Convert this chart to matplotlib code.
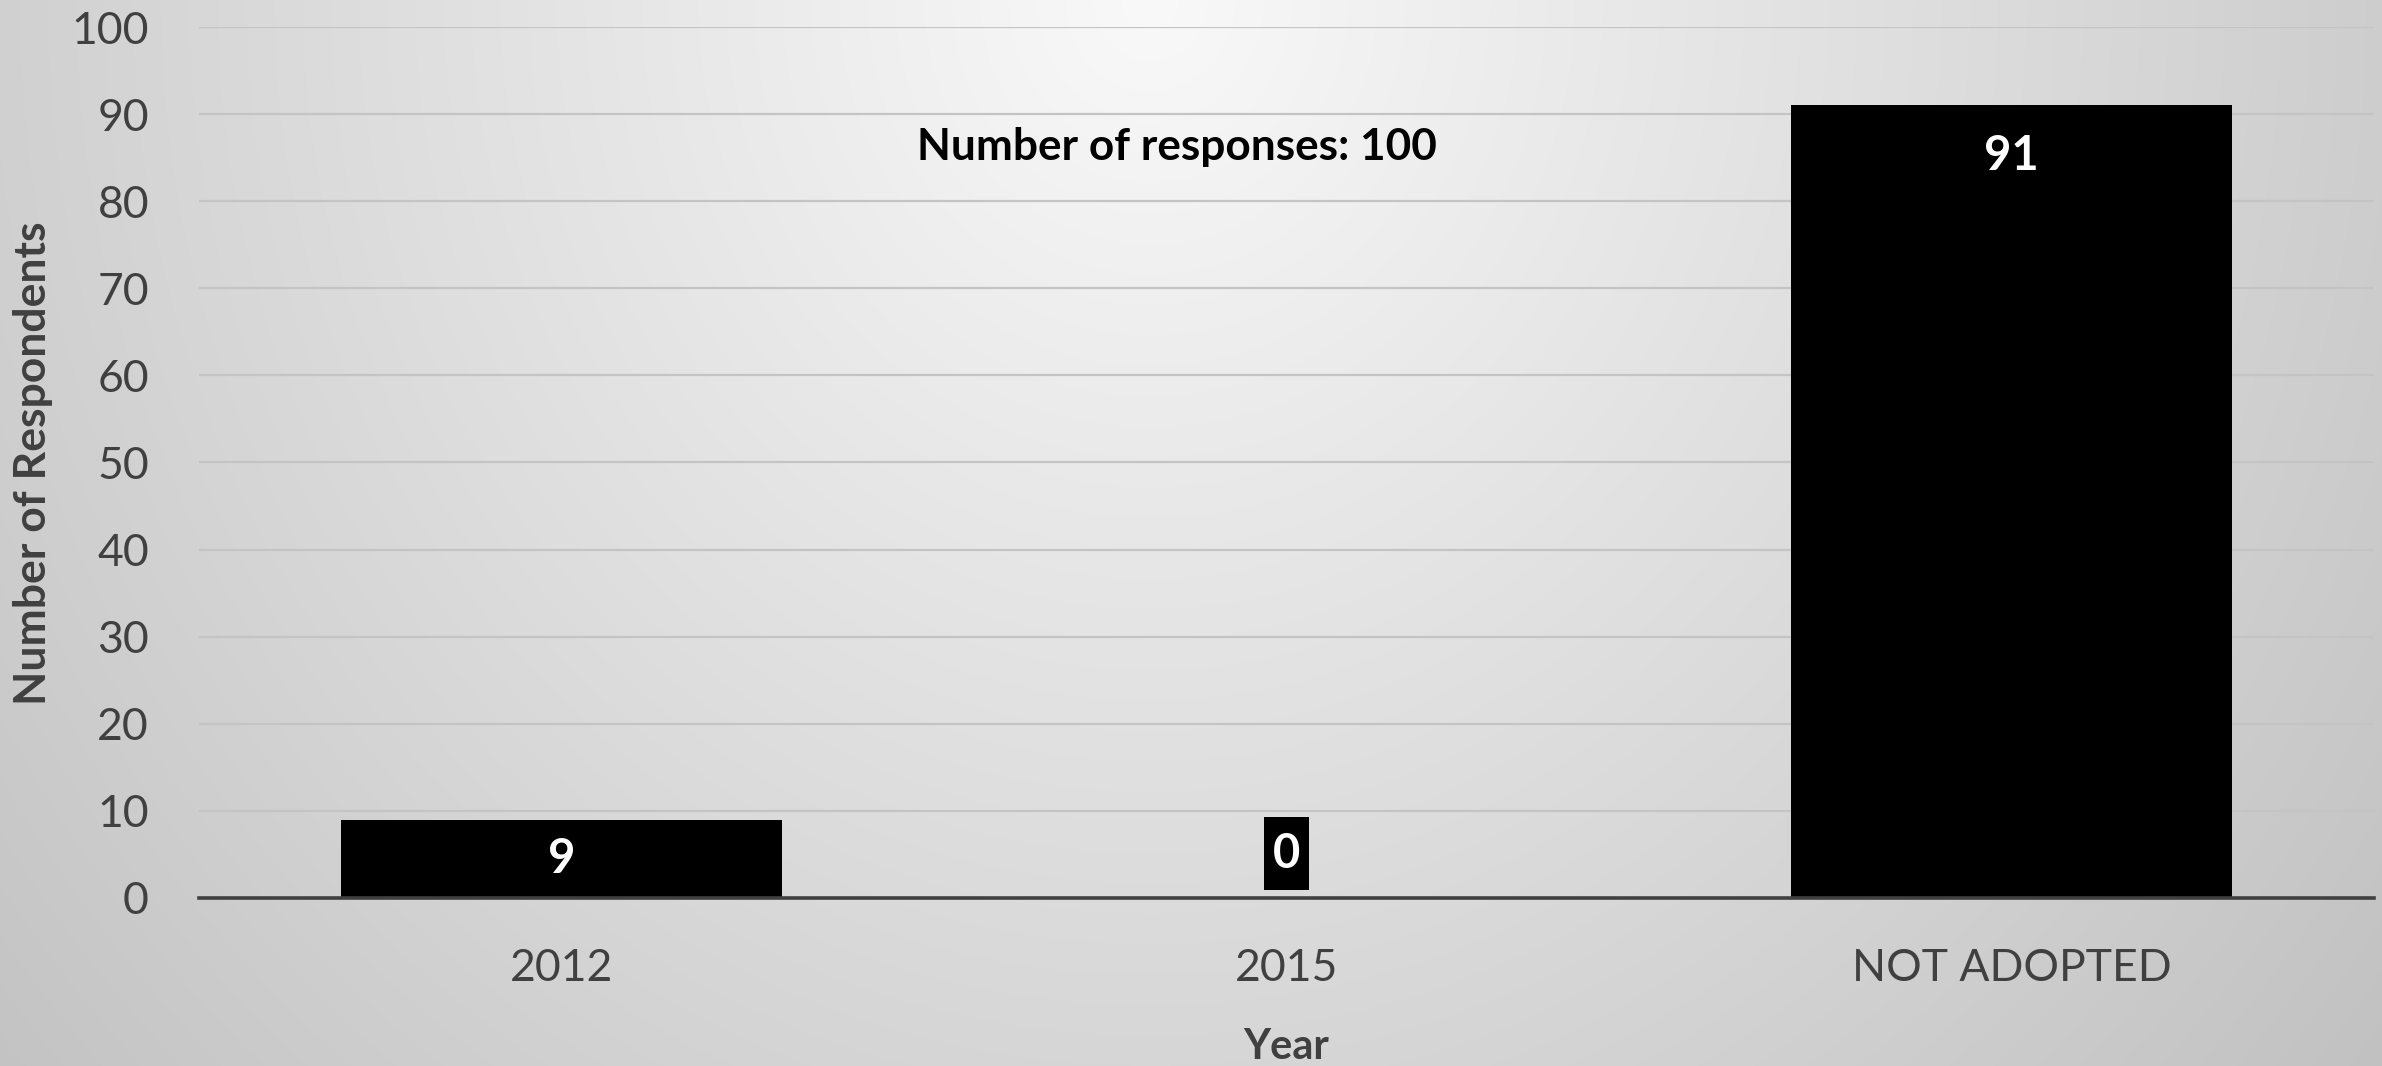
import numpy as np
import matplotlib
matplotlib.use("Agg")
import matplotlib.pyplot as plt
from matplotlib.path import Path

categories = ["2012", "2015", "NOT ADOPTED"]
values = [9, 0, 91]
yticks = [0, 10, 20, 30, 40, 50, 60, 70, 80, 90, 100]
note = "Number of responses: 100"
xlabel = "Year"
ylabel = "Number of Respondents"

plt.rcParams['font.family'] = ['Lato', 'DejaVu Sans']

W, H = 2382, 1066
fig = plt.figure(figsize=(W / 100, H / 100), dpi=100)

# background gradient
bg = fig.add_axes([0, 0, 1, 1], zorder=-10)
yy, xx = np.mgrid[0:H, 0:W]
r = np.sqrt(((xx - 1150) / 1300.0) ** 2 + (yy / 1400.0) ** 2)
g = np.clip(249 - 46 * r, 185, 250) / 255.0
bg.imshow(np.dstack([g, g, g]), aspect='auto', extent=[0, 1, 0, 1], origin='upper')
bg.axis('off')

ax = fig.add_axes([199 / W, 1 - 898 / H, (2374 - 199) / W, (898 - 27) / H])
ax.patch.set_alpha(0)

x = np.arange(len(categories))
ax.bar(x, values, width=0.607, color='black', zorder=3)

ax.set_xlim(-0.5, len(categories) - 0.5)
ax.set_ylim(0, 100)
ax.set_yticks(yticks)
ax.set_xticks(x)
ax.set_xticklabels(categories)
ax.tick_params(axis='both', length=0, labelsize=32, labelcolor='#404040')
ax.tick_params(axis='x', pad=36)
ax.tick_params(axis='y', pad=36)

for yv in yticks[1:]:
    ax.axhline(yv, color='#c4c4c4', lw=1.6, zorder=1)

for s in ['top', 'right', 'left']:
    ax.spines[s].set_visible(False)
ax.spines['bottom'].set_color('#404040')
ax.spines['bottom'].set_linewidth(2.6)
ax.spines['bottom'].set_zorder(4)


def tall_box(x0, y0, width, height, mutation_size):
    px = 0.18 * mutation_size
    py = 0.31 * mutation_size
    x0, y0 = x0 - px, y0 - py
    x1, y1 = x0 + width + 2 * px, y0 + height + 2 * py
    return Path([(x0, y0), (x1, y0), (x1, y1), (x0, y1), (x0, y0)],
                closed=True)


for xi, v in zip(x, values):
    if v >= 12:
        ly = v - 5.8
    elif v > 0:
        ly = v / 2
    else:
        ly = 5.1
    ax.text(xi, ly, str(v), ha='center', va='center', color='white',
            fontsize=34, fontweight='bold', zorder=5,
            bbox=dict(boxstyle=tall_box, fc='black', ec='none'))

ax.text(0.849, 86.2, note, ha='center', va='center', fontsize=31.8,
        fontweight='bold', color='black', zorder=5)

ax.set_xlabel(xlabel, fontsize=30, fontweight='bold', color='#404040', labelpad=28)
fig.text(33 / W, 1 - 463 / H, ylabel, rotation=90, ha='center', va='center',
         fontsize=32, fontweight='bold', color='#404040')

fig.savefig('out.png', dpi=100)
